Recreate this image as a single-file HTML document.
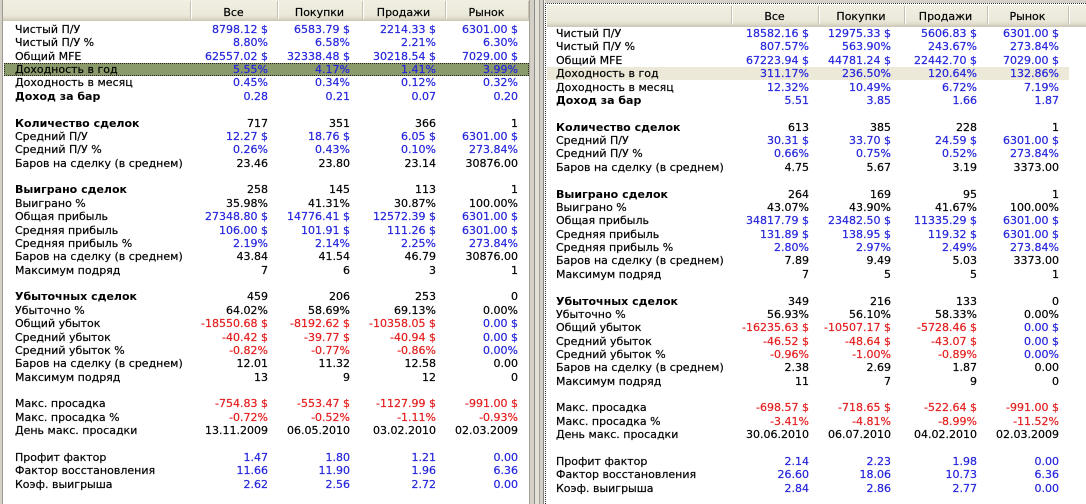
<!DOCTYPE html>
<html>
<head>
<meta charset="utf-8">
<style>
html,body{margin:0;padding:0;}
body{width:1086px;height:504px;overflow:hidden;position:relative;background:#d4d0c8;
 font-family:"DejaVu Sans","Liberation Sans",sans-serif;font-size:11px;color:#000;}
.panel{position:absolute;top:0;height:504px;overflow:hidden;}
#L{left:0;width:529px;background:#fff;--base:23px;}
#R{left:541px;width:545px;background:transparent;--base:27.1px;}
.bg{position:absolute;background:#fff;}
.hdr{position:absolute;background:linear-gradient(#f1efe2,#ebe9da 70%,#e2decd 85%,#d6d2c2 92%,#cbc7b8);}
.hd{position:absolute;text-align:center;white-space:nowrap;-webkit-text-stroke:0.2px #000;}
.dv{position:absolute;width:1px;background:#c5c2b2;box-shadow:1px 0 0 #fff;}
.row{position:absolute;left:0;height:13px;line-height:13px;width:545px;top:calc(var(--base) + var(--i) * 13.37px);white-space:nowrap;}
.lb{position:absolute;left:15px;-webkit-text-stroke:0.2px #000;}
.b{font-weight:bold;-webkit-text-stroke:0;}
.v{position:absolute;width:110px;text-align:right;-webkit-text-stroke:0.2px currentColor;}
.c1{left:158px;}.c2{left:240px;}.c3{left:326px;}.c4{left:408px;}
.u{color:#2424dc;}
.r{color:#e41c1c;}
.hlL{position:absolute;left:4px;width:523px;height:11px;top:63.1px;background:#8b9a6b;border:1px dotted #222;}
.hlR{position:absolute;left:6px;width:522px;height:13px;top:67.2px;background:#ece9d8;}
.s{position:absolute;top:0;height:504px;}
</style>
</head>
<body>

<!-- LEFT PANEL -->
<div class="panel" id="L">
 <div class="s" style="left:0;width:2px;background:#d4d0c8"></div>
 <div class="s" style="left:2px;width:1px;background:#9c9a90"></div>
 <div class="hdr" style="left:3px;top:0;width:526px;height:21px"></div>
 <div class="dv" style="left:190px;top:1px;height:18px"></div>
 <div class="dv" style="left:277px;top:1px;height:18px"></div>
 <div class="dv" style="left:362px;top:1px;height:18px"></div>
 <div class="dv" style="left:445px;top:1px;height:18px"></div>
 <div class="dv" style="left:528px;top:1px;height:18px"></div>
 <div class="hd" style="left:190px;width:87px;top:6px">Все</div>
 <div class="hd" style="left:277px;width:85px;top:6px">Покупки</div>
 <div class="hd" style="left:362px;width:83px;top:6px">Продажи</div>
 <div class="hd" style="left:445px;width:83px;top:6px">Рынок</div>
 <div class="hlL"></div>

 <div class="row" style="--i:0"><span class="lb">Чистый П/У</span><span class="v c1 u">8798.12 $</span><span class="v c2 u">6583.79 $</span><span class="v c3 u">2214.33 $</span><span class="v c4 u">6301.00 $</span></div>
 <div class="row" style="--i:1"><span class="lb">Чистый П/У %</span><span class="v c1 u">8.80%</span><span class="v c2 u">6.58%</span><span class="v c3 u">2.21%</span><span class="v c4 u">6.30%</span></div>
 <div class="row" style="--i:2"><span class="lb">Общий MFE</span><span class="v c1 u">62557.02 $</span><span class="v c2 u">32338.48 $</span><span class="v c3 u">30218.54 $</span><span class="v c4 u">7029.00 $</span></div>
 <div class="row" style="--i:3"><span class="lb">Доходность в год</span><span class="v c1 u">5.55%</span><span class="v c2 u">4.17%</span><span class="v c3 u">1.41%</span><span class="v c4 u">3.99%</span></div>
 <div class="row" style="--i:4"><span class="lb">Доходность в месяц</span><span class="v c1 u">0.45%</span><span class="v c2 u">0.34%</span><span class="v c3 u">0.12%</span><span class="v c4 u">0.32%</span></div>
 <div class="row" style="--i:5"><span class="lb b">Доход за бар</span><span class="v c1 u">0.28</span><span class="v c2 u">0.21</span><span class="v c3 u">0.07</span><span class="v c4 u">0.20</span></div>

 <div class="row" style="--i:7"><span class="lb b">Количество сделок</span><span class="v c1">717</span><span class="v c2">351</span><span class="v c3">366</span><span class="v c4">1</span></div>
 <div class="row" style="--i:8"><span class="lb">Средний П/У</span><span class="v c1 u">12.27 $</span><span class="v c2 u">18.76 $</span><span class="v c3 u">6.05 $</span><span class="v c4 u">6301.00 $</span></div>
 <div class="row" style="--i:9"><span class="lb">Средний П/У %</span><span class="v c1 u">0.26%</span><span class="v c2 u">0.43%</span><span class="v c3 u">0.10%</span><span class="v c4 u">273.84%</span></div>
 <div class="row" style="--i:10"><span class="lb">Баров на сделку (в среднем)</span><span class="v c1">23.46</span><span class="v c2">23.80</span><span class="v c3">23.14</span><span class="v c4">30876.00</span></div>

 <div class="row" style="--i:12"><span class="lb b">Выиграно сделок</span><span class="v c1">258</span><span class="v c2">145</span><span class="v c3">113</span><span class="v c4">1</span></div>
 <div class="row" style="--i:13"><span class="lb">Выиграно %</span><span class="v c1">35.98%</span><span class="v c2">41.31%</span><span class="v c3">30.87%</span><span class="v c4">100.00%</span></div>
 <div class="row" style="--i:14"><span class="lb">Общая прибыль</span><span class="v c1 u">27348.80 $</span><span class="v c2 u">14776.41 $</span><span class="v c3 u">12572.39 $</span><span class="v c4 u">6301.00 $</span></div>
 <div class="row" style="--i:15"><span class="lb">Средняя прибыль</span><span class="v c1 u">106.00 $</span><span class="v c2 u">101.91 $</span><span class="v c3 u">111.26 $</span><span class="v c4 u">6301.00 $</span></div>
 <div class="row" style="--i:16"><span class="lb">Средняя прибыль %</span><span class="v c1 u">2.19%</span><span class="v c2 u">2.14%</span><span class="v c3 u">2.25%</span><span class="v c4 u">273.84%</span></div>
 <div class="row" style="--i:17"><span class="lb">Баров на сделку (в среднем)</span><span class="v c1">43.84</span><span class="v c2">41.54</span><span class="v c3">46.79</span><span class="v c4">30876.00</span></div>
 <div class="row" style="--i:18"><span class="lb">Максимум подряд</span><span class="v c1">7</span><span class="v c2">6</span><span class="v c3">3</span><span class="v c4">1</span></div>

 <div class="row" style="--i:20"><span class="lb b">Убыточных сделок</span><span class="v c1">459</span><span class="v c2">206</span><span class="v c3">253</span><span class="v c4">0</span></div>
 <div class="row" style="--i:21"><span class="lb">Убыточно %</span><span class="v c1">64.02%</span><span class="v c2">58.69%</span><span class="v c3">69.13%</span><span class="v c4">0.00%</span></div>
 <div class="row" style="--i:22"><span class="lb">Общий убыток</span><span class="v c1 r">-18550.68 $</span><span class="v c2 r">-8192.62 $</span><span class="v c3 r">-10358.05 $</span><span class="v c4 u">0.00 $</span></div>
 <div class="row" style="--i:23"><span class="lb">Средний убыток</span><span class="v c1 r">-40.42 $</span><span class="v c2 r">-39.77 $</span><span class="v c3 r">-40.94 $</span><span class="v c4 u">0.00 $</span></div>
 <div class="row" style="--i:24"><span class="lb">Средний убыток %</span><span class="v c1 r">-0.82%</span><span class="v c2 r">-0.77%</span><span class="v c3 r">-0.86%</span><span class="v c4 u">0.00%</span></div>
 <div class="row" style="--i:25"><span class="lb">Баров на сделку (в среднем)</span><span class="v c1">12.01</span><span class="v c2">11.32</span><span class="v c3">12.58</span><span class="v c4">0.00</span></div>
 <div class="row" style="--i:26"><span class="lb">Максимум подряд</span><span class="v c1">13</span><span class="v c2">9</span><span class="v c3">12</span><span class="v c4">0</span></div>

 <div class="row" style="--i:28"><span class="lb">Макс. просадка</span><span class="v c1 r">-754.83 $</span><span class="v c2 r">-553.47 $</span><span class="v c3 r">-1127.99 $</span><span class="v c4 r">-991.00 $</span></div>
 <div class="row" style="--i:29"><span class="lb">Макс. просадка %</span><span class="v c1 r">-0.72%</span><span class="v c2 r">-0.52%</span><span class="v c3 r">-1.11%</span><span class="v c4 r">-0.93%</span></div>
 <div class="row" style="--i:30"><span class="lb">День макс. просадки</span><span class="v c1">13.11.2009</span><span class="v c2">06.05.2010</span><span class="v c3">03.02.2010</span><span class="v c4">02.03.2009</span></div>

 <div class="row" style="--i:32"><span class="lb">Профит фактор</span><span class="v c1 u">1.47</span><span class="v c2 u">1.80</span><span class="v c3 u">1.21</span><span class="v c4 u">0.00</span></div>
 <div class="row" style="--i:33"><span class="lb">Фактор восстановления</span><span class="v c1 u">11.66</span><span class="v c2 u">11.90</span><span class="v c3 u">1.96</span><span class="v c4 u">6.36</span></div>
 <div class="row" style="--i:34"><span class="lb">Коэф. выигрыша</span><span class="v c1 u">2.62</span><span class="v c2 u">2.56</span><span class="v c3 u">2.72</span><span class="v c4 u">0.00</span></div>
</div>

<!-- SPLITTER -->
<div class="s" style="left:529px;width:1px;background:#a6a394"></div>
<div class="s" style="left:530px;width:4px;background:#d4d0c8"></div>
<div class="s" style="left:534px;width:1px;background:#8c8c8c"></div>
<div class="s" style="left:535px;width:4px;background:#e4e1d7"></div>
<div class="s" style="left:539px;width:1px;background:#a0a0a0"></div>
<div class="s" style="left:540px;width:3px;background:#d4d0c8"></div>
<div class="s" style="left:543px;width:1px;background:#808080"></div>
<div class="s" style="left:544px;width:1px;background:#f4f3ee"></div>

<!-- RIGHT PANEL -->
<div class="panel" id="R">
 <div class="bg" style="left:4px;top:0;width:541px;height:3px;background:#d4d0c8"></div>
 <div class="bg" style="left:4px;top:3px;width:541px;height:501px;background:#fff;border-top:1px dotted #333;border-left:1px dotted #333;box-sizing:border-box"></div>
 <div class="hdr" style="left:6px;top:5px;width:539px;height:22px"></div>
 <div class="dv" style="left:190px;top:6px;height:18px"></div>
 <div class="dv" style="left:277px;top:6px;height:18px"></div>
 <div class="dv" style="left:363px;top:6px;height:18px"></div>
 <div class="dv" style="left:446px;top:6px;height:18px"></div>
 <div class="dv" style="left:527px;top:6px;height:18px"></div>
 <div class="hd" style="left:190px;width:87px;top:10px">Все</div>
 <div class="hd" style="left:277px;width:86px;top:10px">Покупки</div>
 <div class="hd" style="left:363px;width:83px;top:10px">Продажи</div>
 <div class="hd" style="left:446px;width:81px;top:10px">Рынок</div>
 <div class="hlR"></div>

 <div class="row" style="--i:0"><span class="lb">Чистый П/У</span><span class="v c1 u">18582.16 $</span><span class="v c2 u">12975.33 $</span><span class="v c3 u">5606.83 $</span><span class="v c4 u">6301.00 $</span></div>
 <div class="row" style="--i:1"><span class="lb">Чистый П/У %</span><span class="v c1 u">807.57%</span><span class="v c2 u">563.90%</span><span class="v c3 u">243.67%</span><span class="v c4 u">273.84%</span></div>
 <div class="row" style="--i:2"><span class="lb">Общий MFE</span><span class="v c1 u">67223.94 $</span><span class="v c2 u">44781.24 $</span><span class="v c3 u">22442.70 $</span><span class="v c4 u">7029.00 $</span></div>
 <div class="row" style="--i:3"><span class="lb">Доходность в год</span><span class="v c1 u">311.17%</span><span class="v c2 u">236.50%</span><span class="v c3 u">120.64%</span><span class="v c4 u">132.86%</span></div>
 <div class="row" style="--i:4"><span class="lb">Доходность в месяц</span><span class="v c1 u">12.32%</span><span class="v c2 u">10.49%</span><span class="v c3 u">6.72%</span><span class="v c4 u">7.19%</span></div>
 <div class="row" style="--i:5"><span class="lb b">Доход за бар</span><span class="v c1 u">5.51</span><span class="v c2 u">3.85</span><span class="v c3 u">1.66</span><span class="v c4 u">1.87</span></div>

 <div class="row" style="--i:7"><span class="lb b">Количество сделок</span><span class="v c1">613</span><span class="v c2">385</span><span class="v c3">228</span><span class="v c4">1</span></div>
 <div class="row" style="--i:8"><span class="lb">Средний П/У</span><span class="v c1 u">30.31 $</span><span class="v c2 u">33.70 $</span><span class="v c3 u">24.59 $</span><span class="v c4 u">6301.00 $</span></div>
 <div class="row" style="--i:9"><span class="lb">Средний П/У %</span><span class="v c1 u">0.66%</span><span class="v c2 u">0.75%</span><span class="v c3 u">0.52%</span><span class="v c4 u">273.84%</span></div>
 <div class="row" style="--i:10"><span class="lb">Баров на сделку (в среднем)</span><span class="v c1">4.75</span><span class="v c2">5.67</span><span class="v c3">3.19</span><span class="v c4">3373.00</span></div>

 <div class="row" style="--i:12"><span class="lb b">Выиграно сделок</span><span class="v c1">264</span><span class="v c2">169</span><span class="v c3">95</span><span class="v c4">1</span></div>
 <div class="row" style="--i:13"><span class="lb">Выиграно %</span><span class="v c1">43.07%</span><span class="v c2">43.90%</span><span class="v c3">41.67%</span><span class="v c4">100.00%</span></div>
 <div class="row" style="--i:14"><span class="lb">Общая прибыль</span><span class="v c1 u">34817.79 $</span><span class="v c2 u">23482.50 $</span><span class="v c3 u">11335.29 $</span><span class="v c4 u">6301.00 $</span></div>
 <div class="row" style="--i:15"><span class="lb">Средняя прибыль</span><span class="v c1 u">131.89 $</span><span class="v c2 u">138.95 $</span><span class="v c3 u">119.32 $</span><span class="v c4 u">6301.00 $</span></div>
 <div class="row" style="--i:16"><span class="lb">Средняя прибыль %</span><span class="v c1 u">2.80%</span><span class="v c2 u">2.97%</span><span class="v c3 u">2.49%</span><span class="v c4 u">273.84%</span></div>
 <div class="row" style="--i:17"><span class="lb">Баров на сделку (в среднем)</span><span class="v c1">7.89</span><span class="v c2">9.49</span><span class="v c3">5.03</span><span class="v c4">3373.00</span></div>
 <div class="row" style="--i:18"><span class="lb">Максимум подряд</span><span class="v c1">7</span><span class="v c2">5</span><span class="v c3">5</span><span class="v c4">1</span></div>

 <div class="row" style="--i:20"><span class="lb b">Убыточных сделок</span><span class="v c1">349</span><span class="v c2">216</span><span class="v c3">133</span><span class="v c4">0</span></div>
 <div class="row" style="--i:21"><span class="lb">Убыточно %</span><span class="v c1">56.93%</span><span class="v c2">56.10%</span><span class="v c3">58.33%</span><span class="v c4">0.00%</span></div>
 <div class="row" style="--i:22"><span class="lb">Общий убыток</span><span class="v c1 r">-16235.63 $</span><span class="v c2 r">-10507.17 $</span><span class="v c3 r">-5728.46 $</span><span class="v c4 u">0.00 $</span></div>
 <div class="row" style="--i:23"><span class="lb">Средний убыток</span><span class="v c1 r">-46.52 $</span><span class="v c2 r">-48.64 $</span><span class="v c3 r">-43.07 $</span><span class="v c4 u">0.00 $</span></div>
 <div class="row" style="--i:24"><span class="lb">Средний убыток %</span><span class="v c1 r">-0.96%</span><span class="v c2 r">-1.00%</span><span class="v c3 r">-0.89%</span><span class="v c4 u">0.00%</span></div>
 <div class="row" style="--i:25"><span class="lb">Баров на сделку (в среднем)</span><span class="v c1">2.38</span><span class="v c2">2.69</span><span class="v c3">1.87</span><span class="v c4">0.00</span></div>
 <div class="row" style="--i:26"><span class="lb">Максимум подряд</span><span class="v c1">11</span><span class="v c2">7</span><span class="v c3">9</span><span class="v c4">0</span></div>

 <div class="row" style="--i:28"><span class="lb">Макс. просадка</span><span class="v c1 r">-698.57 $</span><span class="v c2 r">-718.65 $</span><span class="v c3 r">-522.64 $</span><span class="v c4 r">-991.00 $</span></div>
 <div class="row" style="--i:29"><span class="lb">Макс. просадка %</span><span class="v c1 r">-3.41%</span><span class="v c2 r">-4.81%</span><span class="v c3 r">-8.99%</span><span class="v c4 r">-11.52%</span></div>
 <div class="row" style="--i:30"><span class="lb">День макс. просадки</span><span class="v c1">30.06.2010</span><span class="v c2">06.07.2010</span><span class="v c3">04.02.2010</span><span class="v c4">02.03.2009</span></div>

 <div class="row" style="--i:32"><span class="lb">Профит фактор</span><span class="v c1 u">2.14</span><span class="v c2 u">2.23</span><span class="v c3 u">1.98</span><span class="v c4 u">0.00</span></div>
 <div class="row" style="--i:33"><span class="lb">Фактор восстановления</span><span class="v c1 u">26.60</span><span class="v c2 u">18.06</span><span class="v c3 u">10.73</span><span class="v c4 u">6.36</span></div>
 <div class="row" style="--i:34"><span class="lb">Коэф. выигрыша</span><span class="v c1 u">2.84</span><span class="v c2 u">2.86</span><span class="v c3 u">2.77</span><span class="v c4 u">0.00</span></div>
</div>

</body>
</html>
